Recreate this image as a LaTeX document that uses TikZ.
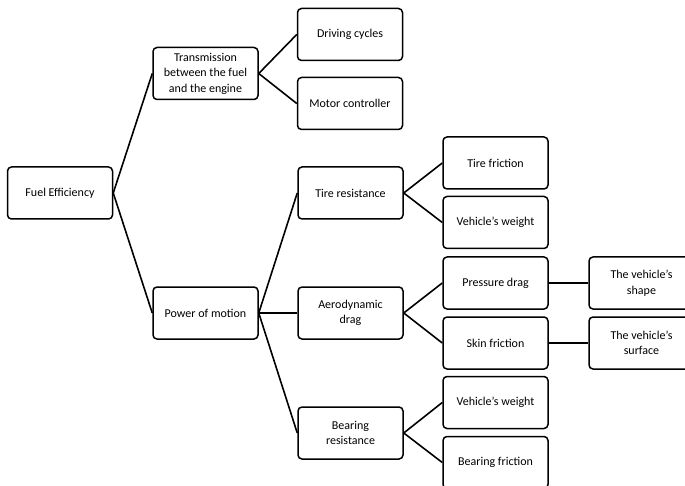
\documentclass[tikz,border=0pt]{standalone}
\usepackage{fontspec}
\setmainfont{Carlito}
\begin{document}
\begin{tikzpicture}[x=1pt,y=-1pt,
  box/.style={draw, line width=1.5pt, rounded corners=4pt, minimum width=105pt, minimum height=52pt, align=center, inner sep=1pt, font=\fontsize{12}{15.5}\selectfont},
  link/.style={line width=1.6pt}]
\useasboundingbox (0,0) rectangle (685,486);
\clip (0,0) rectangle (685,486);
\node[box] (fe) at (60,193) {Fuel Efficiency};
\node[box] (tr) at (205.5,73.5) {Transmission\\between the fuel\\and the engine};
\node[box] (dc) at (350,34.5) {Driving cycles};
\node[box] (mc) at (350,103.5) {Motor controller};
\node[box] (pm) at (205.5,313) {Power of motion};
\node[box] (tres) at (350.5,193) {Tire resistance};
\node[box] (tf) at (495.5,163) {Tire friction};
\node[box] (vw1) at (495.5,222.5) {Vehicle’s weight};
\node[box] (ad) at (350.5,313) {Aerodynamic\\drag};
\node[box] (pd) at (495.5,283) {Pressure drag};
\node[box] (sf) at (495.5,343) {Skin friction};
\node[box] (vs) at (641.5,283) {The vehicle’s\\shape};
\node[box] (vsu) at (641.5,343) {The vehicle’s\\surface};
\node[box] (br) at (350.5,433) {Bearing\\resistance};
\node[box] (vw2) at (495.5,402.5) {Vehicle’s weight};
\node[box] (bf) at (495.5,462.5) {Bearing friction};
\draw[link] (fe.east) -- (tr.west);
\draw[link] (fe.east) -- (pm.west);
\draw[link] (tr.east) -- (dc.west);
\draw[link] (tr.east) -- (mc.west);
\draw[link] (pm.east) -- (tres.west);
\draw[link] (pm.east) -- (ad.west);
\draw[link] (pm.east) -- (br.west);
\draw[link] (tres.east) -- (tf.west);
\draw[link] (tres.east) -- (vw1.west);
\draw[link] (ad.east) -- (pd.west);
\draw[link] (ad.east) -- (sf.west);
\draw[link] (pd.east) -- (vs.west);
\draw[link] (sf.east) -- (vsu.west);
\draw[link] (br.east) -- (vw2.west);
\draw[link] (br.east) -- (bf.west);
\end{tikzpicture}
\end{document}
